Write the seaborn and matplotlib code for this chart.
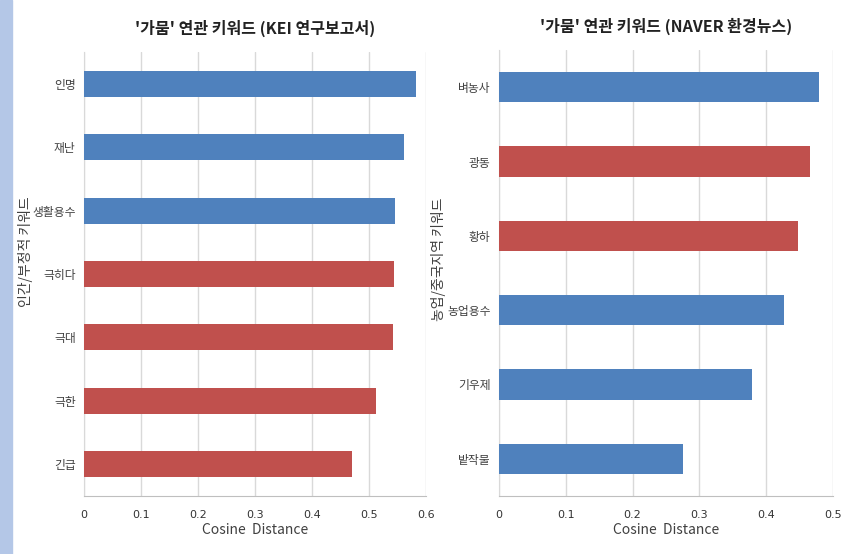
import matplotlib
matplotlib.use("Agg")
import matplotlib.pyplot as plt
import matplotlib.patches as mpatches
import seaborn as sns
import numpy as np

sns.set_style("white")
plt.rcParams["font.family"] = ["Noto Sans CJK KR", "DejaVu Sans"]

BLUE = "#4F81BD"
RED = "#C0504D"

# KEI research reports
kei_words = ["인명", "재난", "생활용수", "극히다", "극대", "극한", "긴급"]
kei_dist = [0.582, 0.561, 0.546, 0.544, 0.542, 0.512, 0.470]
kei_group = ["b", "b", "b", "r", "r", "r", "r"]

# NAVER environment news
naver_words = ["벼농사", "광동", "황하", "농업용수", "기우제", "밭작물"]
naver_dist = [0.479, 0.465, 0.447, 0.426, 0.378, 0.275]
naver_group = ["b", "r", "r", "b", "b", "b"]

kei_ticks = [0, 0.1, 0.2, 0.3, 0.4, 0.5, 0.6]
naver_ticks = [0, 0.1, 0.2, 0.3, 0.4, 0.5]

fig = plt.figure(figsize=(8.43, 5.54), dpi=100)
fig.patch.set_facecolor("white")

# light blue strip along the left edge
fig.add_artist(mpatches.Rectangle((0, 0), 12 / 843, 1, transform=fig.transFigure,
                                  color="#B4C7E7", zorder=0))

ax1 = fig.add_axes([84 / 843, 1 - 496 / 554, 342 / 843, 444 / 554])
ax2 = fig.add_axes([499 / 843, 1 - 496 / 554, 334 / 843, 446 / 554])


def draw(ax, words, dist, group, ticks, title, ylabel, label_xy):
    pal = {w: (BLUE if g == "b" else RED) for w, g in zip(words, group)}
    sns.barplot(x=dist, y=words, hue=words, palette=pal, width=0.41,
                legend=False, ax=ax, saturation=1, zorder=3)
    ax.set_xlim(ticks[0], ticks[-1])
    ax.set_ylim(len(words) - 0.5, -0.5)
    ax.set_xticks(ticks)
    ax.set_xticklabels([("0" if t == 0 else f"{t:g}") for t in ticks],
                       fontsize=8, color="#333333", family=["DejaVu Sans"])
    ax.grid(axis="x", color="#D9D9D9", linewidth=1, zorder=0)
    ax.set_axisbelow(True)
    ax.tick_params(axis="y", which="major", length=0, pad=6,
                   labelsize=8.5, labelcolor="#404040")
    ax.set_yticks(np.arange(-0.5, len(words), 1), minor=True)
    ax.tick_params(axis="y", which="minor", length=4, color="#BFBFBF", direction="out")
    ax.tick_params(axis="x", length=4, color="#BFBFBF", direction="out", pad=6)
    for s in ["top", "right"]:
        ax.spines[s].set_visible(False)
    ax.spines["left"].set_color("#D9D9D9")
    ax.spines["bottom"].set_color("#BFBFBF")
    ax.set_xlabel("Cosine  Distance", fontsize=10, color="#404040", labelpad=2)
    ax.set_ylabel(ylabel, fontsize=10, color="#404040")
    ax.yaxis.set_label_coords(*label_xy)
    ax.set_title(title, fontsize=11.5, fontweight="bold", color="#222222", pad=13)
    for b in ax.patches:
        b.set_edgecolor("none")


draw(ax1, kei_words, kei_dist, kei_group, kei_ticks,
     "'가뭄' 연관 키워드 (KEI 연구보고서)", "인간/부정적 키워드", (-0.15, 0.55))
draw(ax2, naver_words, naver_dist, naver_group, naver_ticks,
     "'가뭄' 연관 키워드 (NAVER 환경뉴스)", "농업/중국지역 키워드", (-0.16, 0.53))

fig.savefig("out.png", dpi=100)
